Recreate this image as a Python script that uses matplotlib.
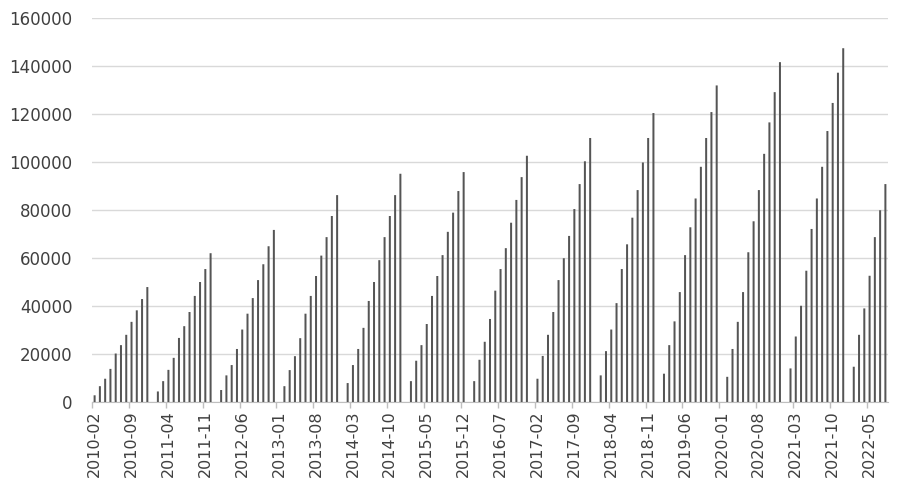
import numpy as np
import matplotlib.pyplot as plt

# === Data: cumulative monthly values, Feb..Dec each year (Jan reported with Feb) ===
years = list(range(2010, 2023))
v2010 = [2800, 6600, 9700, 13800, 20200, 23700, 28000, 33400, 38200, 42900, 47900]
v2011 = [4400, 8700, 13400, 18400, 26700, 31600, 37500, 44200, 50000, 55400, 62000]
v2012 = [5000, 11100, 15400, 22100, 30200, 36800, 43300, 50800, 57400, 64900, 71700]
v2013 = [6600, 13300, 19100, 26600, 36800, 44200, 52500, 61000, 68700, 77500, 86200]
v2014 = [7900, 15400, 22100, 30900, 42100, 50000, 59100, 68700, 77500, 86200, 95100]
v2015 = [8700, 17200, 23700, 32500, 44200, 52500, 61200, 70900, 78900, 87900, 95800]
v2016 = [8700, 17600, 25100, 34600, 46400, 55400, 64100, 74700, 84200, 93700, 102600]
v2017 = [9700, 19200, 28000, 37500, 50800, 59900, 69200, 80400, 90800, 100300, 110000]
v2018 = [11100, 21200, 30200, 41200, 55400, 65700, 76800, 88300, 99800, 110000, 120400]
v2019 = [11800, 23700, 33600, 45800, 61200, 72800, 84800, 98000, 110000, 120800, 131900]
v2020 = [10500, 22100, 33400, 45800, 62400, 75300, 88300, 103400, 116500, 129100, 141600]
v2021 = [14000, 27300, 40100, 54700, 72100, 84800, 98000, 112900, 124600, 137200, 147400]
v2022 = [14700, 28000, 39000, 52600, 68700, 79900, 90800]
yearly = [v2010, v2011, v2012, v2013, v2014, v2015, v2016, v2017, v2018,
          v2019, v2020, v2021, v2022]

# === Build monthly category axis: 2010-02 .. 2022-08, January left empty ===
labels = []
values = []
for y, vals in zip(years, yearly):
    months = range(1, 13) if y > 2010 else range(2, 13)
    for m in months:
        if y == 2022 and m > 8:
            break
        labels.append(f"{y}-{m:02d}")
        values.append(np.nan if m == 1 else vals[m - 2])
values = np.array(values, dtype=float)
x = np.arange(len(labels))

# === Plot ===
fig = plt.figure(figsize=(9, 4.94), dpi=100)
ax = fig.add_axes([0.1022, 0.1862, 0.8845, 0.7774])

bars = ax.bar(x, np.nan_to_num(values), width=0.38, color="#555555", zorder=3)
for b in bars:
    b.set_snap(False)

ax.set_xlim(-0.5, len(labels) - 0.5)
ax.set_ylim(0, 160000)
ax.set_yticks(np.arange(0, 160001, 20000))
ax.yaxis.grid(True, color="#d9d9d9", linewidth=1, zorder=0)

# labels every 7 months, centred on category; tick marks on the left edge
lab_idx = x[::7]
ax.set_xticks(lab_idx)
ax.set_xticklabels([labels[i] for i in lab_idx], rotation=90)
ax.set_xticks(lab_idx - 0.5, minor=True)
ax.tick_params(axis="x", which="major", length=0, pad=6, labelsize=11.5, labelcolor="#404040")
ax.tick_params(axis="x", which="minor", length=4, color="#bfbfbf", width=1)
ax.tick_params(axis="y", length=0, pad=14, labelsize=12, labelcolor="#404040")

for s in ["top", "right", "left"]:
    ax.spines[s].set_visible(False)
ax.spines["bottom"].set_color("#bfbfbf")

fig.savefig("out.png", dpi=100)
